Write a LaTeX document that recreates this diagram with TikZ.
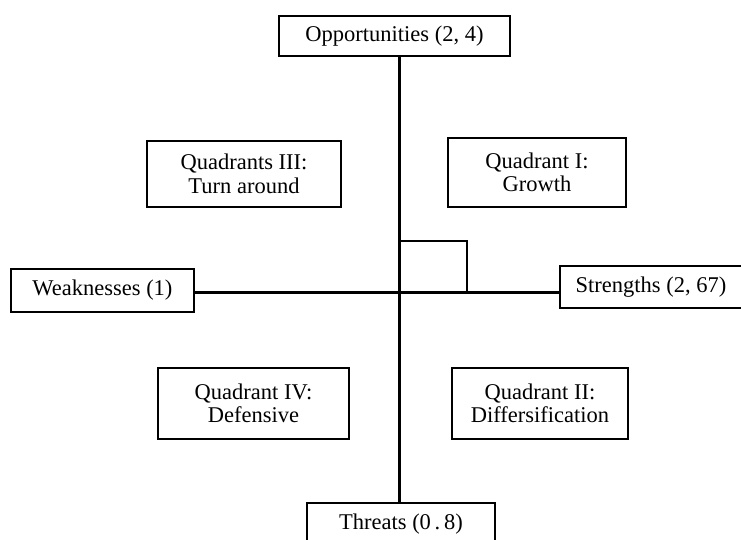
\documentclass[tikz,border=0pt]{standalone}
\usepackage{fontspec}
\setmainfont{Liberation Serif}
\begin{document}
\begin{tikzpicture}[x=1pt,y=1pt,
  box/.style={draw,line width=1.8pt,align=center,inner sep=0pt,font=\fontsize{22.5}{23.5}\selectfont},
  axis/.style={line width=3pt},
  thin/.style={line width=1.8pt}]
\useasboundingbox (0,0) rectangle (741,540);
\coordinate (c) at (399,247);
\coordinate (k) at (467,299);
\node[box,minimum width=231pt,minimum height=40pt] (opp) at (394.5,504) {Opportunities (2, 4)};
\node[box,minimum width=183pt,minimum height=43pt] (weak) at (102.5,249.5) {Weaknesses (1)};
\node[box,minimum width=182pt,minimum height=42pt] (str) at (651,253) {Strengths (2, 67)};
\node[box,minimum width=188pt,minimum height=42pt] (thr) at (401,16) {Threats (0\,.\,8)};
\node[box,minimum width=194pt,minimum height=66pt] (q3) at (244,366) {Quadrants III:\\Turn around};
\node[box,minimum width=178pt,minimum height=69pt] (q1) at (537,367.5) {Quadrant I:\\Growth};
\node[box,minimum width=191pt,minimum height=71pt] (q4) at (253.5,136.5) {Quadrant IV:\\Defensive};
\node[box,minimum width=176pt,minimum height=71pt] (q2) at (540,136.5) {Quadrant II:\\Differsification};
\draw[axis] (opp.south -| c) -- (thr.north -| c);
\draw[axis] (weak.east |- c) -- (str.west |- c);
\draw[thin] (c |- k) -- (k) -- (k |- c);
\end{tikzpicture}
\end{document}
